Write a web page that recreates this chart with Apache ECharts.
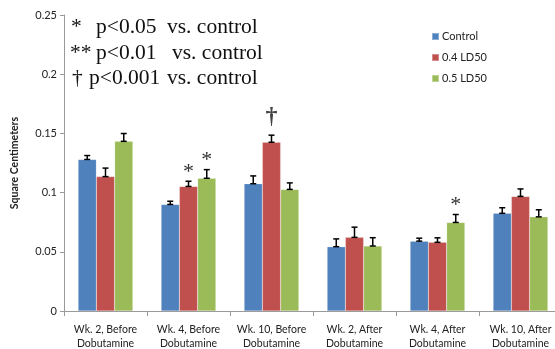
<!DOCTYPE html>
<html><head><meta charset="utf-8">
<script src="https://cdn.jsdelivr.net/npm/echarts@6/dist/echarts.min.js"></script>
<style>html,body{margin:0;padding:0;background:#fff}#c{width:555px;height:349px}</style>
</head><body><div id="c"></div>
<script>
var categories = ['Wk. 2, Before\nDobutamine','Wk. 4, Before\nDobutamine','Wk. 10, Before\nDobutamine','Wk. 2, After\nDobutamine','Wk. 4, After\nDobutamine','Wk. 10, After\nDobutamine'];
var seriesNames = ['Control','0.4 LD50','0.5 LD50'];
var control = [0.128, 0.090, 0.1075, 0.0543, 0.059, 0.0825];
var ld04 = [0.1135, 0.1052, 0.1425, 0.0622, 0.058, 0.0968];
var ld05 = [0.1433, 0.1121, 0.1027, 0.0549, 0.0748, 0.0795];
var controlErr = [0.0033, 0.0027, 0.0066, 0.0066, 0.0025, 0.0047];
var ld04Err = [0.0072, 0.0044, 0.006, 0.0086, 0.0038, 0.0063];
var ld05Err = [0.0066, 0.0073, 0.0055, 0.007, 0.0067, 0.006];
// significance marks: [categoryIndex, seriesIndex, symbol]
var marks = [[1,1,'*'],[1,2,'*'],[2,1,'\u2020'],[4,2,'*']];
var yTicks = ['0','0.05','0.1','0.15','0.2','0.25'];
var notes = [['*','p<0.05','vs. control'],['**','p<0.01','vs. control'],['\u2020','p<0.001','vs. control']];

var colors = ['#4F81BD','#C0504D','#9BBB59'];
var values = [control, ld04, ld05];
var errs = [controlErr, ld04Err, ld05Err];
var gapFrac = 0.34;

var chart = echarts.init(document.getElementById('c'));
var series = [];
values.forEach(function(v, s){
  series.push({
    name: seriesNames[s], type: 'bar', data: v, barGap: '0%', barCategoryGap: (gapFrac*100)+'%',
    itemStyle: {color: colors[s], borderColor: 'rgba(255,255,255,0.35)', borderWidth: 0.5},
    z: 2
  });
});
values.forEach(function(v, s){
  var data = v.map(function(val, i){
    var m = marks.filter(function(mk){return mk[0]===i && mk[1]===s;});
    return [i, val, val + errs[s][i], m.length ? m[0][2] : ''];
  });
  series.push({
    type: 'custom', data: data, z: 5, silent: true,
    encode: {x: 0, y: [1,2]},
    renderItem: function(params, api){
      var i = api.value(0);
      var band = api.size([1,0])[0];
      var bw = band*(1-gapFrac)/3;
      var off = (s-1)*bw;
      var p0 = api.coord([i, api.value(1)]);
      var p1 = api.coord([i, api.value(2)]);
      var x = p0[0] + off;
      var cw = 3;
      var st = {stroke:'#000', lineWidth:1.5};
      var children = [
        {type:'line', shape:{x1:x, y1:p0[1], x2:x, y2:p1[1]}, style:st},
        {type:'line', shape:{x1:x-cw, y1:p1[1], x2:x+cw, y2:p1[1]}, style:st},
        {type:'line', shape:{x1:x-cw, y1:p0[1], x2:x+cw, y2:p0[1]}, style:st}
      ];
      var sym = api.value(3);
      if (sym) {
        var isDag = sym !== '*';
        children.push({type:'text', style:{text: sym, x: x, y: p1[1] + (isDag ? -6 : 2),
          align:'center', verticalAlign:'bottom', fill: isDag ? '#444' : '#333',
          font: (isDag ? 'bold 24px' : '22px') + ' "Liberation Serif"'}});
      }
      return {type:'group', children: children};
    }
  });
});

var graphics = [];
var lineY = [28, 54, 79];
var xs = [[71,96,167],[70,96,172],[72,89,167]];
notes.forEach(function(n, k){
  n.forEach(function(t, j){
    graphics.push({type:'text', left: xs[k][j], top: lineY[k]-12,
      style:{text:t, font:'21.5px "Liberation Serif"', fill:'#111'}});
  });
});

chart.setOption({
  animation: false,
  color: colors,
  grid: {left: 64, top: 15, bottom: 38, right: -7, containLabel: false, outerBoundsMode: 'none'},
  legend: {
    data: seriesNames, orient: 'vertical', left: 426, top: 26, itemGap: 10,
    itemWidth: 7, itemHeight: 7, icon: 'rect',
    textStyle: {fontFamily: 'Lato', fontSize: 11, color: '#222', padding:[0,0,0,-2]}
  },
  graphic: graphics,
  xAxis: {
    type: 'category', data: categories,
    axisLine: {lineStyle: {color: '#999'}},
    axisTick: {show: true, length: 5, lineStyle: {color:'#999'}},
    axisLabel: {fontFamily: 'Lato', fontSize: 10.5, color: '#222', lineHeight: 14, margin: 12, interval: 0}
  },
  yAxis: {
    type: 'value', min: 0, max: 0.25, interval: 0.05,
    name: 'Square Centimeters', nameLocation: 'middle', nameGap: 44,
    nameTextStyle: {fontFamily: 'Lato', fontSize: 10.5, fontWeight: 'bold', color: '#222'},
    axisLine: {show: true, lineStyle: {color: '#999'}},
    axisTick: {show: true, length: 4, lineStyle: {color:'#999'}},
    splitLine: {show: false},
    axisLabel: {fontFamily: 'Lato', fontSize: 11, color: '#222', margin: 7,
      formatter: function(v){ return yTicks[Math.round(v/0.05)]; }}
  },
  series: series
});
</script></body></html>
